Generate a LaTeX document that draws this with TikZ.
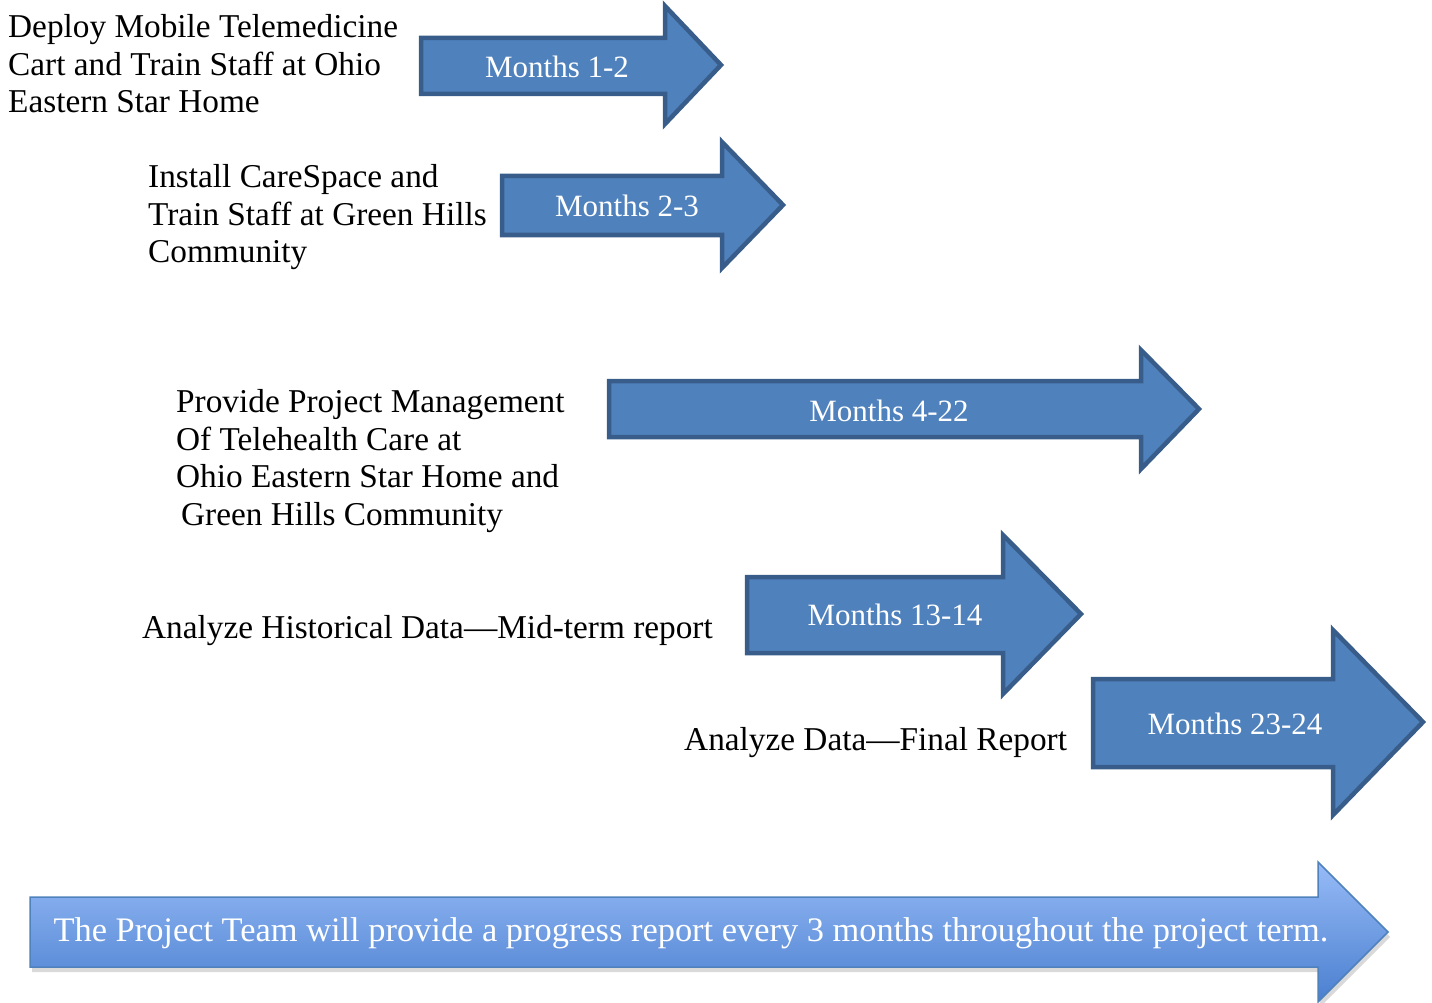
\documentclass[tikz,border=0pt]{standalone}
\usepackage{fontspec}
\setmainfont{Liberation Serif}
\usetikzlibrary{shadows}
\definecolor{arrowblue}{HTML}{4F81BD}
\definecolor{arrowline}{HTML}{385D8A}
\definecolor{reporttop}{HTML}{97BBF7}
\definecolor{reportbot}{HTML}{4A7FCF}
\tikzset{%
	monthsarrow/.style = {draw=arrowline, fill=arrowblue, line width=4.5pt, miter limit=10},
	reportarrow/.style = {draw=arrowblue, line width=1.5pt, top color=reporttop, bottom color=reportbot, drop shadow={shadow xshift=2pt, shadow yshift=-5pt, opacity=.3}},
	monthslabel/.style = {text=white, font=\fontsize{31}{36}\selectfont, inner sep=0pt},
	tasktext/.style    = {anchor=north west, align=left, inner sep=0pt, font=\fontsize{33.3}{37.7}\selectfont},
}
\begin{document}
\begin{tikzpicture}[x=1pt,y=-1pt]
	\useasboundingbox (0,0) rectangle (1432,1003);
	
	\node[tasktext] (deploy) at (8,14) {Deploy Mobile Telemedicine\\Cart and Train Staff at Ohio\\Eastern Star Home};
	\draw[monthsarrow] (421,38) -- (665,38) -- (665,6) -- (721,65) -- (665,124) -- (665,94) -- (421,94) -- cycle;
	\node[monthslabel] (m12) at (557,67) {Months 1-2};
	
	\node[tasktext] (install) at (148,164) {Install CareSpace and\\Train Staff at Green Hills\\Community};
	\draw[monthsarrow] (502,176) -- (722,176) -- (722,142) -- (783,205) -- (722,268) -- (722,235) -- (502,235) -- cycle;
	\node[monthslabel] (m23) at (627,206) {Months 2-3};
	
	\node[tasktext] (manage) at (176,389) {Provide Project Management\\Of Telehealth Care at\\Ohio Eastern Star Home and\\\hspace{5pt}Green Hills Community};
	\draw[monthsarrow] (609,381) -- (1141,381) -- (1141,350) -- (1199,409) -- (1141,469) -- (1141,437) -- (609,437) -- cycle;
	\node[monthslabel] (m422) at (889,411) {Months 4-22};
	
	\node[tasktext] (historical) at (142,615) {Analyze Historical Data—Mid-term report};
	\draw[monthsarrow] (747,577) -- (1003,577) -- (1003,535) -- (1081,614) -- (1003,694) -- (1003,653) -- (747,653) -- cycle;
	\node[monthslabel] (m1314) at (895,615) {Months 13-14};
	
	\node[tasktext] (final) at (684,727) {Analyze Data—Final Report};
	\draw[monthsarrow] (1093,679) -- (1333,679) -- (1333,630) -- (1423,722) -- (1333,815) -- (1333,767) -- (1093,767) -- cycle;
	\node[monthslabel] (m2324) at (1235,724) {Months 23-24};
	
	\path[reportarrow] (30,897) -- (1318,897) -- (1318,862) -- (1388,932) -- (1318,1002) -- (1318,967) -- (30,967) -- cycle;
	\node[monthslabel, font=\fontsize{34.4}{40}\selectfont] (report) at (691,933) {The Project Team will provide a progress report every 3 months throughout the project term.};
\end{tikzpicture}
\end{document}
